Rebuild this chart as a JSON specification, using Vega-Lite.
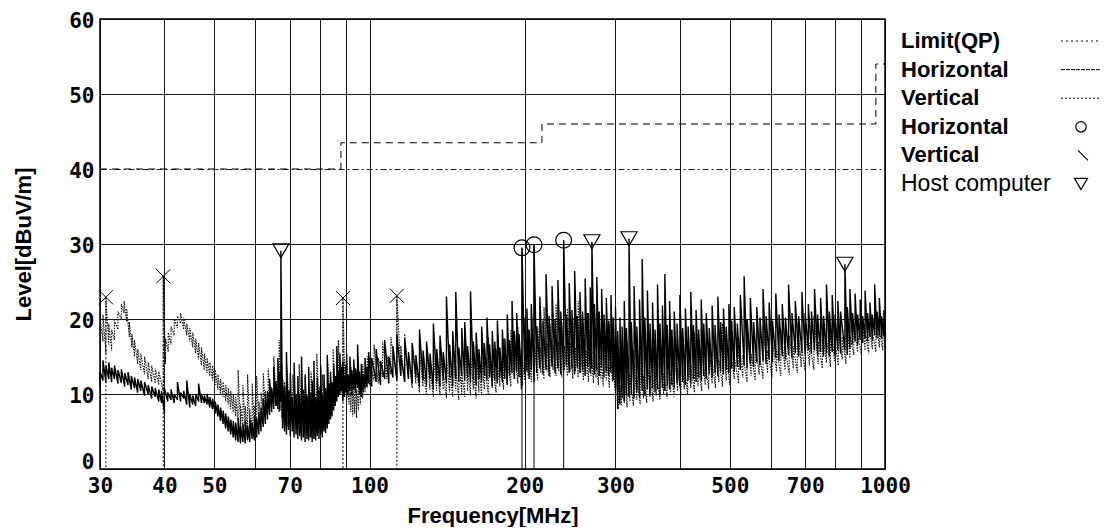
{
"$schema":"https://vega.github.io/schema/vega-lite/v6.json",
"background":"white",
"padding":{"left":11,"top":9,"right":0,"bottom":0},
"spacing":16,
"bounds":"flush",
"resolve":{"scale":{"x":"independent","y":"independent"}},
"datasets":{
"limit":[{"f":30,"v":40},{"f":88,"v":40},{"f":88,"v":43.5},{"f":216,"v":43.5},{"f":216,"v":46},{"f":960,"v":46},{"f":960,"v":54},{"f":1000,"v":54}],
"mk":[{"f":30.8,"v":22.9,"t":"V"},{"f":39.8,"v":25.7,"t":"V"},{"f":88.8,"v":22.8,"t":"V"},{"f":113,"v":23.1,"t":"V"},
{"f":197.6,"v":29.5,"t":"H"},{"f":208.5,"v":29.9,"t":"H"},{"f":238,"v":30.5,"t":"H"},
{"f":67.3,"v":29.1,"t":"P"},{"f":270,"v":30.3,"t":"P"},{"f":318.7,"v":30.7,"t":"P"},{"f":836,"v":27.3,"t":"P"}],
"leg":[{"i":1,"label":"Limit(QP)"},{"i":2,"label":"Horizontal"},{"i":3,"label":"Vertical"},{"i":4,"label":"Horizontal"},{"i":5,"label":"Vertical"},{"i":6,"label":"Host computer"}],
"h":[
{"f":30.0,"lo":11.0,"hi":13.0},{"f":30.4,"lo":11.8,"hi":14.5},{"f":30.8,"lo":11.5,"hi":13.8},{"f":31.2,"lo":12.0,"hi":14.2},{"f":31.6,"lo":11.6,"hi":13.5},{"f":32.0,"lo":12.0,"hi":13.8},{"f":32.5,"lo":11.4,"hi":13.2},{"f":33.0,"lo":11.5,"hi":13.3},{"f":33.5,"lo":11.0,"hi":12.8},{"f":34.0,"lo":11.2,"hi":12.9},{"f":34.5,"lo":10.6,"hi":12.4},{"f":35.0,"lo":10.8,"hi":12.2},{"f":35.5,"lo":10.2,"hi":12.0},{"f":36.0,"lo":10.4,"hi":11.8},{"f":36.6,"lo":9.8,"hi":11.6},{"f":37.2,"lo":10.0,"hi":11.2},{"f":37.8,"lo":9.4,"hi":11.0},{"f":38.4,"lo":9.6,"hi":10.8},{"f":39.0,"lo":9.0,"hi":10.6},{"f":39.5,"lo":8.8,"hi":10.4},{"f":40.0,"lo":7.5,"hi":10.8},{"f":40.6,"lo":9.0,"hi":10.2},{"f":41.2,"lo":9.2,"hi":10.6},{"f":41.8,"lo":8.8,"hi":10.0},{"f":42.4,"lo":9.2,"hi":11.6},{"f":43.0,"lo":9.0,"hi":10.2},{"f":43.6,"lo":9.4,"hi":10.4},{"f":44.2,"lo":8.6,"hi":11.8},{"f":44.8,"lo":8.2,"hi":10.0},{"f":45.4,"lo":8.6,"hi":9.8},{"f":46.0,"lo":8.4,"hi":10.0},{"f":46.6,"lo":9.0,"hi":11.4},{"f":47.2,"lo":8.8,"hi":10.0},{"f":47.8,"lo":8.8,"hi":9.8},{"f":48.4,"lo":8.6,"hi":10.0},{"f":49.0,"lo":8.2,"hi":9.6},{"f":49.6,"lo":8.0,"hi":9.4},{"f":50.2,"lo":7.4,"hi":9.0},{"f":50.8,"lo":7.0,"hi":8.6},{"f":51.4,"lo":6.4,"hi":8.2},{"f":52.0,"lo":6.0,"hi":7.8},{"f":52.6,"lo":5.4,"hi":7.4},{"f":53.2,"lo":5.0,"hi":7.0},{"f":53.8,"lo":4.6,"hi":6.6},{"f":54.4,"lo":4.2,"hi":6.4},{"f":55.0,"lo":3.8,"hi":6.2},{"f":55.6,"lo":3.6,"hi":6.8},{"f":56.2,"lo":3.4,"hi":5.8},{"f":56.8,"lo":3.6,"hi":6.0},{"f":57.4,"lo":3.4,"hi":6.4},{"f":58.0,"lo":3.8,"hi":5.8},{"f":58.6,"lo":3.6,"hi":6.6},{"f":59.2,"lo":4.0,"hi":6.2},{"f":59.8,"lo":3.8,"hi":7.0},{"f":60.4,"lo":4.2,"hi":6.8},{"f":61.0,"lo":4.6,"hi":7.6},{"f":61.6,"lo":5.0,"hi":8.2},{"f":62.2,"lo":5.6,"hi":9.4},{"f":62.8,"lo":6.0,"hi":9.8},{"f":63.4,"lo":6.6,"hi":10.4},{"f":64.0,"lo":7.2,"hi":12.0},{"f":64.6,"lo":7.6,"hi":10.8},{"f":65.2,"lo":8.0,"hi":13.6},{"f":65.8,"lo":8.4,"hi":11.6},{"f":66.4,"lo":8.0,"hi":14.8},{"f":67.0,"lo":7.8,"hi":13.0},{"f":67.3,"lo":9.0,"hi":29.1},{"f":67.8,"lo":5.4,"hi":12.0},{"f":68.4,"lo":5.0,"hi":11.0},{"f":69.0,"lo":4.6,"hi":15.6},{"f":69.6,"lo":5.2,"hi":10.4},{"f":70.2,"lo":4.4,"hi":12.8},{"f":70.8,"lo":5.0,"hi":9.6},{"f":71.4,"lo":4.2,"hi":14.2},{"f":72.0,"lo":4.6,"hi":10.0},{"f":72.6,"lo":4.0,"hi":12.4},{"f":73.2,"lo":4.4,"hi":9.8},{"f":73.8,"lo":3.8,"hi":15.0},{"f":74.4,"lo":4.2,"hi":10.6},{"f":75.0,"lo":3.6,"hi":12.6},{"f":75.6,"lo":4.0,"hi":9.8},{"f":76.2,"lo":3.8,"hi":13.6},{"f":76.8,"lo":4.2,"hi":10.2},{"f":77.4,"lo":3.6,"hi":11.8},{"f":78.0,"lo":4.0,"hi":14.4},{"f":78.6,"lo":3.8,"hi":9.6},{"f":79.2,"lo":4.4,"hi":12.2},{"f":79.8,"lo":4.0,"hi":10.4},{"f":80.4,"lo":4.6,"hi":13.8},{"f":81.0,"lo":4.2,"hi":9.8},{"f":81.6,"lo":5.0,"hi":12.6},{"f":82.2,"lo":4.8,"hi":10.8},{"f":82.8,"lo":5.4,"hi":15.2},{"f":83.4,"lo":6.0,"hi":11.4},{"f":84.0,"lo":6.6,"hi":13.0},{"f":84.6,"lo":7.0,"hi":11.6},{"f":85.2,"lo":7.8,"hi":14.0},{"f":85.8,"lo":8.4,"hi":12.4},{"f":86.4,"lo":9.0,"hi":16.4},{"f":87.0,"lo":9.6,"hi":13.2},{"f":87.6,"lo":10.0,"hi":15.4},{"f":88.2,"lo":10.4,"hi":13.6},{"f":88.8,"lo":9.0,"hi":14.4},{"f":89.4,"lo":9.6,"hi":12.4},{"f":90.0,"lo":10.2,"hi":13.8},{"f":90.8,"lo":9.8,"hi":12.6},{"f":91.6,"lo":10.4,"hi":15.0},{"f":92.4,"lo":10.0,"hi":13.2},{"f":93.2,"lo":10.6,"hi":14.6},{"f":94.0,"lo":10.2,"hi":13.4},{"f":94.8,"lo":10.8,"hi":16.6},{"f":95.6,"lo":10.0,"hi":13.0},{"f":96.4,"lo":9.6,"hi":14.0},{"f":97.2,"lo":10.2,"hi":12.6},{"f":98.0,"lo":10.8,"hi":14.8},{"f":98.8,"lo":11.0,"hi":13.6},{"f":99.6,"lo":11.4,"hi":15.6},
{"f":101,"lo":11.0,"hi":14.8},{"f":103,"lo":11.6,"hi":16.0},{"f":105,"lo":11.2,"hi":14.4},{"f":107,"lo":12.0,"hi":17.2},{"f":109,"lo":11.4,"hi":15.0},{"f":111,"lo":12.2,"hi":16.4},{"f":113,"lo":11.8,"hi":18.0},{"f":115,"lo":12.4,"hi":15.2},{"f":117,"lo":11.6,"hi":17.4},{"f":119,"lo":12.0,"hi":15.6},{"f":121,"lo":11.4,"hi":16.8},{"f":123,"lo":12.2,"hi":15.2},{"f":125,"lo":11.0,"hi":18.6},{"f":127,"lo":11.8,"hi":15.8},{"f":129,"lo":11.2,"hi":17.0},{"f":131,"lo":12.0,"hi":15.4},{"f":133,"lo":10.6,"hi":19.4},{"f":135,"lo":11.6,"hi":16.0},{"f":137,"lo":11.0,"hi":17.8},{"f":139,"lo":12.0,"hi":15.6},{"f":141,"lo":11.4,"hi":23.0},{"f":143,"lo":12.2,"hi":16.6},{"f":145,"lo":11.0,"hi":18.4},{"f":147,"lo":12.0,"hi":23.6},{"f":149,"lo":11.6,"hi":16.2},{"f":151,"lo":12.4,"hi":18.8},{"f":153,"lo":11.8,"hi":19.6},{"f":155,"lo":12.2,"hi":16.4},{"f":157,"lo":11.6,"hi":23.7},{"f":159,"lo":12.0,"hi":17.0},{"f":161,"lo":11.2,"hi":18.2},{"f":163,"lo":12.0,"hi":16.0},{"f":165,"lo":11.6,"hi":19.0},{"f":167,"lo":12.4,"hi":16.8},{"f":169,"lo":11.8,"hi":20.2},{"f":171,"lo":12.2,"hi":16.6},{"f":173,"lo":11.0,"hi":18.4},{"f":175,"lo":11.8,"hi":17.0},{"f":177,"lo":11.4,"hi":19.8},{"f":179,"lo":12.2,"hi":16.2},{"f":181,"lo":11.6,"hi":18.6},{"f":183,"lo":12.0,"hi":17.4},{"f":185,"lo":11.2,"hi":20.6},{"f":187,"lo":12.4,"hi":17.2},{"f":189,"lo":12.8,"hi":22.4},{"f":191,"lo":12.0,"hi":18.4},{"f":193,"lo":13.0,"hi":20.8},{"f":195,"lo":12.2,"hi":18.0},{"f":197.6,"lo":11.0,"hi":29.5},{"f":200,"lo":12.6,"hi":19.4},{"f":202,"lo":13.0,"hi":21.4},{"f":204,"lo":12.0,"hi":18.6},{"f":206,"lo":13.2,"hi":22.0},{"f":208.5,"lo":11.6,"hi":29.9},{"f":211,"lo":12.8,"hi":19.0},{"f":214,"lo":13.4,"hi":23.0},{"f":217,"lo":12.6,"hi":19.8},{"f":220,"lo":13.2,"hi":26.0},{"f":223,"lo":12.4,"hi":20.4},{"f":226,"lo":13.6,"hi":24.4},{"f":229,"lo":12.8,"hi":20.0},{"f":232,"lo":13.4,"hi":25.2},{"f":235,"lo":12.6,"hi":21.0},{"f":238,"lo":13.0,"hi":30.5},{"f":241,"lo":13.8,"hi":20.6},{"f":244,"lo":12.8,"hi":24.8},{"f":247,"lo":13.4,"hi":21.2},{"f":250,"lo":12.6,"hi":26.4},{"f":253,"lo":13.6,"hi":20.4},{"f":256,"lo":12.8,"hi":23.6},{"f":259,"lo":13.2,"hi":21.0},{"f":262,"lo":12.4,"hi":25.4},{"f":265,"lo":13.6,"hi":20.8},{"f":268,"lo":12.8,"hi":24.2},{"f":270,"lo":13.4,"hi":30.3},{"f":273,"lo":12.6,"hi":22.0},{"f":276,"lo":13.2,"hi":25.6},{"f":279,"lo":12.4,"hi":21.0},{"f":282,"lo":13.6,"hi":24.0},{"f":285,"lo":12.2,"hi":20.6},{"f":288,"lo":13.0,"hi":22.8},{"f":291,"lo":12.4,"hi":19.8},{"f":294,"lo":12.8,"hi":23.2},{"f":297,"lo":11.8,"hi":20.2},{"f":300,"lo":10.6,"hi":21.6},{"f":303,"lo":8.0,"hi":18.4},{"f":306,"lo":8.6,"hi":20.2},{"f":309,"lo":9.4,"hi":19.0},{"f":312,"lo":9.0,"hi":22.4},{"f":315,"lo":9.8,"hi":18.8},{"f":318.7,"lo":9.6,"hi":30.7},{"f":322,"lo":10.0,"hi":19.6},{"f":326,"lo":9.4,"hi":24.4},{"f":330,"lo":10.2,"hi":19.0},{"f":334,"lo":9.6,"hi":22.6},{"f":338,"lo":10.4,"hi":28.0},{"f":342,"lo":9.8,"hi":20.2},{"f":346,"lo":10.6,"hi":23.8},{"f":350,"lo":10.0,"hi":19.4},{"f":354,"lo":10.8,"hi":22.2},{"f":358,"lo":10.2,"hi":18.6},{"f":362,"lo":10.6,"hi":24.6},{"f":366,"lo":10.0,"hi":19.4},{"f":370,"lo":10.8,"hi":21.8},{"f":374,"lo":10.4,"hi":26.0},{"f":378,"lo":11.0,"hi":19.2},{"f":382,"lo":10.6,"hi":22.4},{"f":386,"lo":11.2,"hi":18.6},{"f":390,"lo":10.8,"hi":21.0},{"f":395,"lo":11.4,"hi":19.4},{"f":400,"lo":11.0,"hi":23.2},{"f":405,"lo":11.6,"hi":18.8},{"f":410,"lo":11.2,"hi":21.4},{"f":415,"lo":11.8,"hi":19.0},{"f":420,"lo":11.4,"hi":23.6},{"f":425,"lo":12.0,"hi":19.2},{"f":430,"lo":11.6,"hi":21.2},{"f":435,"lo":12.2,"hi":18.6},{"f":440,"lo":11.8,"hi":22.6},{"f":445,"lo":12.4,"hi":19.4},{"f":450,"lo":12.0,"hi":20.8},{"f":456,"lo":12.6,"hi":18.8},{"f":462,"lo":12.2,"hi":21.8},{"f":468,"lo":12.8,"hi":19.2},{"f":474,"lo":12.4,"hi":23.0},{"f":480,"lo":13.0,"hi":19.6},{"f":486,"lo":12.6,"hi":21.4},{"f":492,"lo":13.2,"hi":19.0},{"f":498,"lo":12.8,"hi":22.0},{"f":504,"lo":13.4,"hi":19.8},{"f":510,"lo":13.0,"hi":21.6},{"f":517,"lo":13.6,"hi":19.4},{"f":524,"lo":13.2,"hi":23.2},{"f":533,"lo":13.8,"hi":25.7},{"f":540,"lo":13.4,"hi":20.0},{"f":548,"lo":14.0,"hi":22.8},{"f":556,"lo":13.6,"hi":19.6},{"f":564,"lo":14.2,"hi":21.6},{"f":572,"lo":13.8,"hi":20.2},{"f":580,"lo":14.4,"hi":24.0},{"f":588,"lo":14.0,"hi":20.4},{"f":596,"lo":14.6,"hi":22.2},{"f":605,"lo":14.2,"hi":19.8},{"f":614,"lo":14.8,"hi":23.4},{"f":623,"lo":14.4,"hi":20.6},{"f":632,"lo":15.0,"hi":22.0},{"f":641,"lo":14.6,"hi":20.2},{"f":650,"lo":15.2,"hi":24.6},{"f":660,"lo":14.8,"hi":20.8},{"f":670,"lo":15.4,"hi":22.4},{"f":680,"lo":15.0,"hi":20.4},{"f":690,"lo":15.6,"hi":23.6},{"f":700,"lo":15.2,"hi":20.8},{"f":710,"lo":15.8,"hi":22.0},{"f":720,"lo":15.4,"hi":21.0},{"f":730,"lo":15.8,"hi":24.0},{"f":740,"lo":15.2,"hi":20.6},{"f":750,"lo":15.6,"hi":22.8},{"f":760,"lo":15.0,"hi":20.4},{"f":770,"lo":15.4,"hi":24.6},{"f":780,"lo":15.0,"hi":21.0},{"f":790,"lo":15.6,"hi":23.2},{"f":800,"lo":15.2,"hi":20.6},{"f":810,"lo":15.8,"hi":22.4},{"f":820,"lo":15.4,"hi":21.0},{"f":836,"lo":15.8,"hi":27.3},{"f":845,"lo":15.2,"hi":21.6},{"f":855,"lo":16.0,"hi":24.0},{"f":865,"lo":16.6,"hi":20.8},{"f":875,"lo":17.0,"hi":23.4},{"f":885,"lo":16.6,"hi":20.6},{"f":895,"lo":17.2,"hi":22.6},{"f":905,"lo":16.8,"hi":20.4},{"f":915,"lo":17.4,"hi":23.8},{"f":925,"lo":17.0,"hi":20.8},{"f":935,"lo":17.6,"hi":22.2},{"f":945,"lo":17.2,"hi":20.6},{"f":955,"lo":17.8,"hi":24.6},{"f":965,"lo":17.4,"hi":21.0},{"f":975,"lo":17.8,"hi":22.8},{"f":985,"lo":17.4,"hi":20.4},{"f":995,"lo":17.8,"hi":21.2},{"f":1000,"lo":17.6,"hi":19.0}
],
"v":[
{"f":30.0,"lo":16.0,"hi":20.0},{"f":30.4,"lo":17.0,"hi":20.6},{"f":30.8,"lo":15.4,"hi":22.9},{"f":31.2,"lo":16.6,"hi":19.4},{"f":31.6,"lo":15.8,"hi":18.6},{"f":32.0,"lo":17.2,"hi":19.8},{"f":32.5,"lo":18.6,"hi":21.0},{"f":33.0,"lo":20.0,"hi":22.0},{"f":33.4,"lo":20.8,"hi":22.4},{"f":33.8,"lo":19.6,"hi":21.4},{"f":34.2,"lo":17.6,"hi":19.6},{"f":34.6,"lo":16.2,"hi":18.0},{"f":35.0,"lo":15.0,"hi":17.2},{"f":35.5,"lo":14.0,"hi":16.0},{"f":36.0,"lo":13.2,"hi":15.4},{"f":36.6,"lo":12.6,"hi":15.0},{"f":37.2,"lo":12.0,"hi":14.2},{"f":37.8,"lo":11.6,"hi":13.8},{"f":38.4,"lo":11.4,"hi":13.4},{"f":39.0,"lo":11.2,"hi":13.0},{"f":39.8,"lo":10.4,"hi":25.7},{"f":40.2,"lo":14.0,"hi":17.4},{"f":40.7,"lo":15.6,"hi":18.2},{"f":41.2,"lo":16.6,"hi":19.0},{"f":41.8,"lo":17.8,"hi":20.0},{"f":42.4,"lo":18.8,"hi":20.4},{"f":43.0,"lo":19.4,"hi":20.8},{"f":43.6,"lo":18.6,"hi":20.2},{"f":44.2,"lo":17.8,"hi":19.4},{"f":44.8,"lo":17.0,"hi":18.8},{"f":45.4,"lo":16.2,"hi":18.2},{"f":46.0,"lo":15.4,"hi":17.4},{"f":46.6,"lo":14.6,"hi":16.8},{"f":47.2,"lo":13.8,"hi":16.2},{"f":47.8,"lo":13.2,"hi":15.4},{"f":48.4,"lo":12.8,"hi":14.8},{"f":49.0,"lo":12.4,"hi":14.2},{"f":49.6,"lo":11.8,"hi":13.8},{"f":50.2,"lo":11.2,"hi":13.2},{"f":50.8,"lo":10.6,"hi":12.6},{"f":51.4,"lo":10.0,"hi":12.0},{"f":52.0,"lo":9.6,"hi":11.6},{"f":52.6,"lo":9.0,"hi":11.2},{"f":53.2,"lo":8.6,"hi":10.8},{"f":53.8,"lo":8.0,"hi":10.4},{"f":54.4,"lo":7.6,"hi":10.0},{"f":55.0,"lo":7.0,"hi":9.6},{"f":55.6,"lo":6.4,"hi":13.2},{"f":56.2,"lo":5.8,"hi":8.6},{"f":56.8,"lo":5.4,"hi":11.2},{"f":57.4,"lo":5.2,"hi":8.4},{"f":58.0,"lo":5.0,"hi":12.6},{"f":58.6,"lo":5.4,"hi":8.0},{"f":59.2,"lo":5.0,"hi":11.4},{"f":59.8,"lo":5.6,"hi":8.4},{"f":60.4,"lo":5.8,"hi":12.4},{"f":61.0,"lo":6.2,"hi":9.0},{"f":61.6,"lo":6.8,"hi":10.2},{"f":62.2,"lo":7.4,"hi":12.8},{"f":62.8,"lo":8.0,"hi":10.4},{"f":63.6,"lo":8.6,"hi":13.4},{"f":64.4,"lo":8.2,"hi":11.0},{"f":65.2,"lo":8.8,"hi":15.0},{"f":66.0,"lo":8.4,"hi":11.8},{"f":66.8,"lo":7.6,"hi":17.2},{"f":67.6,"lo":6.8,"hi":14.0},{"f":68.4,"lo":6.0,"hi":11.6},{"f":69.2,"lo":5.6,"hi":13.4},{"f":70.0,"lo":6.2,"hi":10.6},{"f":71.0,"lo":5.4,"hi":12.6},{"f":72.0,"lo":6.0,"hi":9.8},{"f":73.0,"lo":5.6,"hi":14.0},{"f":74.0,"lo":6.4,"hi":10.2},{"f":75.0,"lo":5.8,"hi":12.2},{"f":76.0,"lo":6.6,"hi":9.6},{"f":77.0,"lo":6.0,"hi":13.0},{"f":78.0,"lo":6.8,"hi":10.4},{"f":79.0,"lo":6.4,"hi":15.4},{"f":80.0,"lo":7.0,"hi":11.0},{"f":81.0,"lo":6.6,"hi":12.6},{"f":82.0,"lo":7.4,"hi":10.4},{"f":83.0,"lo":7.0,"hi":14.2},{"f":84.0,"lo":7.8,"hi":11.6},{"f":85.0,"lo":8.4,"hi":16.0},{"f":86.0,"lo":9.0,"hi":12.4},{"f":87.0,"lo":9.6,"hi":17.2},{"f":88.0,"lo":10.2,"hi":14.0},{"f":88.8,"lo":10.0,"hi":22.8},{"f":89.6,"lo":10.6,"hi":14.6},{"f":90.4,"lo":9.4,"hi":15.4},{"f":91.2,"lo":8.6,"hi":12.6},{"f":92.0,"lo":7.6,"hi":13.6},{"f":92.8,"lo":7.0,"hi":11.0},{"f":93.6,"lo":7.4,"hi":12.4},{"f":94.4,"lo":6.8,"hi":10.6},{"f":95.2,"lo":7.8,"hi":13.2},{"f":96.0,"lo":8.6,"hi":11.4},{"f":97.0,"lo":9.4,"hi":14.0},{"f":98.0,"lo":10.2,"hi":12.6},{"f":99.0,"lo":10.8,"hi":15.0},
{"f":100,"lo":11.2,"hi":14.4},{"f":102,"lo":11.8,"hi":16.6},{"f":104,"lo":11.4,"hi":14.8},{"f":106,"lo":12.2,"hi":17.0},{"f":108,"lo":12.0,"hi":15.2},{"f":110,"lo":12.6,"hi":17.6},{"f":113,"lo":12.0,"hi":23.1},{"f":115,"lo":12.8,"hi":16.4},{"f":117,"lo":11.6,"hi":18.0},{"f":119,"lo":12.0,"hi":15.0},{"f":121,"lo":10.8,"hi":16.4},{"f":123,"lo":11.4,"hi":14.2},{"f":125,"lo":10.2,"hi":15.6},{"f":127,"lo":11.0,"hi":13.6},{"f":129,"lo":9.8,"hi":16.0},{"f":131,"lo":10.6,"hi":13.4},{"f":133,"lo":9.6,"hi":15.2},{"f":135,"lo":10.4,"hi":13.8},{"f":137,"lo":9.8,"hi":16.8},{"f":139,"lo":10.6,"hi":13.0},{"f":141,"lo":9.4,"hi":15.0},{"f":143,"lo":10.2,"hi":13.2},{"f":145,"lo":9.6,"hi":16.2},{"f":147,"lo":10.4,"hi":13.6},{"f":149,"lo":9.2,"hi":14.8},{"f":151,"lo":10.0,"hi":13.0},{"f":153,"lo":9.6,"hi":17.0},{"f":155,"lo":10.4,"hi":13.4},{"f":157,"lo":9.8,"hi":15.6},{"f":159,"lo":10.6,"hi":13.2},{"f":161,"lo":9.4,"hi":16.4},{"f":163,"lo":10.2,"hi":13.8},{"f":165,"lo":9.8,"hi":15.0},{"f":167,"lo":10.6,"hi":13.6},{"f":170,"lo":10.0,"hi":17.6},{"f":173,"lo":10.8,"hi":14.0},{"f":176,"lo":10.2,"hi":16.0},{"f":179,"lo":11.0,"hi":14.2},{"f":182,"lo":10.6,"hi":17.4},{"f":185,"lo":11.4,"hi":14.6},{"f":188,"lo":11.0,"hi":18.6},{"f":191,"lo":12.0,"hi":15.0},{"f":194,"lo":11.4,"hi":19.0},{"f":197,"lo":10.6,"hi":16.0},{"f":200,"lo":11.8,"hi":20.2},{"f":203,"lo":12.4,"hi":16.6},{"f":206,"lo":11.6,"hi":21.2},{"f":209,"lo":12.6,"hi":16.4},{"f":212,"lo":11.8,"hi":19.0},{"f":215,"lo":12.8,"hi":16.2},{"f":218,"lo":12.0,"hi":21.6},{"f":221,"lo":13.0,"hi":16.8},{"f":224,"lo":12.2,"hi":19.4},{"f":227,"lo":13.2,"hi":16.6},{"f":230,"lo":12.4,"hi":22.0},{"f":233,"lo":13.0,"hi":17.0},{"f":236,"lo":12.2,"hi":19.6},{"f":239,"lo":13.2,"hi":16.4},{"f":242,"lo":12.4,"hi":21.4},{"f":245,"lo":13.0,"hi":16.8},{"f":248,"lo":12.0,"hi":20.2},{"f":251,"lo":13.0,"hi":16.2},{"f":254,"lo":12.2,"hi":22.4},{"f":257,"lo":12.8,"hi":16.6},{"f":260,"lo":11.8,"hi":19.4},{"f":263,"lo":12.6,"hi":15.8},{"f":266,"lo":11.6,"hi":20.8},{"f":269,"lo":12.4,"hi":15.6},{"f":272,"lo":11.4,"hi":19.0},{"f":275,"lo":12.2,"hi":15.4},{"f":278,"lo":11.2,"hi":21.0},{"f":281,"lo":12.0,"hi":15.2},{"f":284,"lo":11.0,"hi":18.4},{"f":288,"lo":11.8,"hi":15.0},{"f":292,"lo":10.8,"hi":19.6},{"f":296,"lo":11.6,"hi":14.6},{"f":300,"lo":10.0,"hi":18.0},{"f":304,"lo":8.0,"hi":13.6},{"f":308,"lo":8.4,"hi":16.2},{"f":312,"lo":8.8,"hi":12.8},{"f":316,"lo":8.2,"hi":17.0},{"f":320,"lo":9.0,"hi":12.6},{"f":325,"lo":8.4,"hi":15.8},{"f":330,"lo":9.2,"hi":12.4},{"f":335,"lo":8.6,"hi":19.0},{"f":340,"lo":9.4,"hi":12.6},{"f":345,"lo":8.8,"hi":16.4},{"f":350,"lo":9.6,"hi":12.8},{"f":355,"lo":9.0,"hi":17.6},{"f":360,"lo":9.8,"hi":13.0},{"f":366,"lo":9.2,"hi":15.4},{"f":372,"lo":10.0,"hi":12.8},{"f":378,"lo":9.4,"hi":18.0},{"f":384,"lo":10.2,"hi":13.2},{"f":390,"lo":9.6,"hi":16.0},{"f":396,"lo":10.4,"hi":13.4},{"f":402,"lo":9.8,"hi":17.2},{"f":408,"lo":10.6,"hi":13.6},{"f":414,"lo":10.0,"hi":15.8},{"f":420,"lo":10.8,"hi":13.8},{"f":427,"lo":10.2,"hi":18.2},{"f":434,"lo":11.0,"hi":14.0},{"f":441,"lo":10.4,"hi":16.2},{"f":448,"lo":11.2,"hi":14.2},{"f":455,"lo":10.6,"hi":17.4},{"f":462,"lo":11.4,"hi":14.4},{"f":469,"lo":10.8,"hi":16.6},{"f":476,"lo":11.6,"hi":14.6},{"f":484,"lo":11.0,"hi":19.4},{"f":492,"lo":11.8,"hi":14.8},{"f":500,"lo":11.2,"hi":16.8},{"f":510,"lo":12.0,"hi":15.0},{"f":520,"lo":11.4,"hi":17.6},{"f":530,"lo":12.2,"hi":15.2},{"f":540,"lo":11.6,"hi":18.4},{"f":550,"lo":12.4,"hi":15.4},{"f":560,"lo":11.8,"hi":17.0},{"f":570,"lo":12.6,"hi":15.6},{"f":580,"lo":12.0,"hi":19.0},{"f":592,"lo":12.8,"hi":15.8},{"f":604,"lo":12.2,"hi":17.4},{"f":616,"lo":13.0,"hi":16.0},{"f":628,"lo":12.4,"hi":18.6},{"f":640,"lo":13.2,"hi":16.2},{"f":652,"lo":12.6,"hi":17.8},{"f":664,"lo":13.4,"hi":16.4},{"f":676,"lo":12.8,"hi":19.6},{"f":688,"lo":13.6,"hi":16.6},{"f":700,"lo":13.0,"hi":18.0},{"f":714,"lo":13.8,"hi":16.8},{"f":728,"lo":13.2,"hi":20.4},{"f":742,"lo":14.0,"hi":17.0},{"f":756,"lo":13.4,"hi":18.6},{"f":770,"lo":14.2,"hi":17.2},{"f":784,"lo":13.6,"hi":19.8},{"f":798,"lo":14.4,"hi":17.4},{"f":812,"lo":13.8,"hi":19.0},{"f":826,"lo":14.6,"hi":17.6},{"f":840,"lo":14.0,"hi":21.2},{"f":855,"lo":14.8,"hi":17.8},{"f":870,"lo":15.2,"hi":19.4},{"f":885,"lo":15.6,"hi":18.0},{"f":900,"lo":15.2,"hi":20.6},{"f":915,"lo":15.8,"hi":18.2},{"f":930,"lo":15.4,"hi":19.6},{"f":945,"lo":16.0,"hi":18.4},{"f":960,"lo":15.6,"hi":21.0},{"f":975,"lo":16.2,"hi":18.6},{"f":990,"lo":15.8,"hi":19.4},{"f":1000,"lo":16.2,"hi":18.2}
]
},
"hconcat":[
{
"width":785,"height":450,
"view":{"stroke":"#000","strokeWidth":1.5},
"encoding":{
"x":{"field":"f","type":"quantitative","scale":{"type":"log","domain":[30,1000],"nice":false,"zero":false},
"axis":{"values":[30,40,50,60,70,80,90,100,200,300,400,500,600,700,800,900,1000],"format":"d",
"labelExpr":"(datum.value == 60 || datum.value == 80 || datum.value == 90 || datum.value == 400 || datum.value == 600 || datum.value == 800 || datum.value == 900) ? '' : datum.label",
"title":"Frequency[MHz]","grid":true,"gridColor":"#000","gridWidth":1,"gridOpacity":0.9,"ticks":false,"domain":false,
"labelFont":"DejaVu Sans Mono","labelFontWeight":"bold","labelFontSize":21,"labelColor":"#000","labelPadding":6,"labelFlush":false,"labelOverlap":false,
"titleFont":"Liberation Sans","titleFontWeight":"bold","titleFontSize":22,"titleColor":"#000","titlePadding":9}},
"y":{"field":"v","type":"quantitative","scale":{"domain":[0,60],"nice":false},
"axis":{"values":[0,10,20,30,40,50,60],"title":"Level[dBuV/m]","grid":true,"gridColor":"#000","gridWidth":1,"gridOpacity":0.9,
"gridDash":{"condition":{"test":"datum.value === 40","value":[6,3,2,3]},"value":[]},
"labelOffset":{"condition":{"test":"datum.value === 0","value":-7},"value":2},
"ticks":false,"domain":false,
"labelFont":"DejaVu Sans Mono","labelFontWeight":"bold","labelFontSize":21,"labelColor":"#000","labelPadding":6,
"titleFont":"Liberation Sans","titleFontWeight":"bold","titleFontSize":22,"titleColor":"#000","titlePadding":33}}
},
"layer":[
{"data":{"name":"limit"},"mark":{"type":"line","color":"#000","strokeWidth":1,"strokeDash":[7,5]},"encoding":{"order":{"value":null}}},
{"data":{"name":"v"},"transform":[{"fold":["lo","hi"],"as":["k","v"]}],"mark":{"type":"line","color":"#111","strokeWidth":1.1,"strokeDash":[1.5,1.2]},"encoding":{"order":{"value":null}}},
{"data":{"name":"h"},"transform":[{"fold":["lo","hi"],"as":["k","v"]}],"mark":{"type":"line","color":"#000","strokeWidth":1.4},"encoding":{"order":{"value":null}}},
{"data":{"name":"mk"},"transform":[{"filter":"datum.t == 'V'"}],"mark":{"type":"rule","color":"#000","strokeWidth":1,"strokeDash":[2,2]},"encoding":{"y2":{"datum":0}}},
{"data":{"name":"mk"},"transform":[{"filter":"datum.t == 'H'"}],"mark":{"type":"rule","color":"#000","strokeWidth":1},"encoding":{"y2":{"datum":0}}},
{"data":{"name":"mk"},"transform":[{"filter":"datum.t == 'V'"}],"mark":{"type":"point","shape":"M-1,-1L1,1M1,-1L-1,1","size":200,"filled":false,"color":"#000","strokeWidth":1,"opacity":1}},
{"data":{"name":"mk"},"transform":[{"filter":"datum.t == 'H'"}],"mark":{"type":"point","shape":"circle","size":250,"filled":false,"color":"#000","strokeWidth":1.2,"opacity":1}},
{"data":{"name":"mk"},"transform":[{"filter":"datum.t == 'P'"}],"mark":{"type":"point","shape":"triangle-down","size":260,"filled":false,"color":"#000","strokeWidth":1.2,"opacity":1}}
]
},
{
"width":200,"height":187,
"view":{"stroke":null},
"data":{"name":"leg"},
"encoding":{"y":{"field":"i","type":"ordinal","scale":{"type":"point","padding":0.77},"axis":null}},
"layer":[
{"transform":[{"filter":"datum.i < 6"}],"mark":{"type":"text","align":"left","baseline":"middle","font":"Liberation Sans","fontSize":22,"fontWeight":"bold","color":"#000"},
"encoding":{"x":{"datum":0,"type":"quantitative","scale":{"domain":[0,200]},"axis":null},"text":{"field":"label"}}},
{"transform":[{"filter":"datum.i == 6"}],"mark":{"type":"text","align":"left","baseline":"middle","font":"Liberation Sans","fontSize":23,"fontWeight":"normal","color":"#000"},
"encoding":{"x":{"datum":0,"type":"quantitative"},"text":{"field":"label"}}},
{"transform":[{"filter":"datum.i == 1"}],"mark":{"type":"rule","color":"#000","strokeWidth":1,"strokeDash":[2,3]},"encoding":{"x":{"datum":160,"type":"quantitative"},"x2":{"datum":200}}},
{"transform":[{"filter":"datum.i == 2"}],"mark":{"type":"rule","color":"#000","strokeWidth":1,"strokeDash":[4,1]},"encoding":{"x":{"datum":160,"type":"quantitative"},"x2":{"datum":200}}},
{"transform":[{"filter":"datum.i == 3"}],"mark":{"type":"rule","color":"#000","strokeWidth":1,"strokeDash":[2,2]},"encoding":{"x":{"datum":160,"type":"quantitative"},"x2":{"datum":200}}},
{"transform":[{"filter":"datum.i == 4"}],"mark":{"type":"point","shape":"circle","size":110,"filled":false,"color":"#000","strokeWidth":1.2,"opacity":1},"encoding":{"x":{"datum":180,"type":"quantitative"}}},
{"transform":[{"filter":"datum.i == 5"}],"mark":{"type":"point","shape":"M-1,-1L1,1","size":100,"filled":false,"color":"#000","strokeWidth":1.2,"opacity":1},"encoding":{"x":{"datum":182,"type":"quantitative"}}},
{"transform":[{"filter":"datum.i == 6"}],"mark":{"type":"point","shape":"triangle-down","size":170,"filled":false,"color":"#000","strokeWidth":1.2,"opacity":1},"encoding":{"x":{"datum":180,"type":"quantitative"}}}
]
}
]
}
